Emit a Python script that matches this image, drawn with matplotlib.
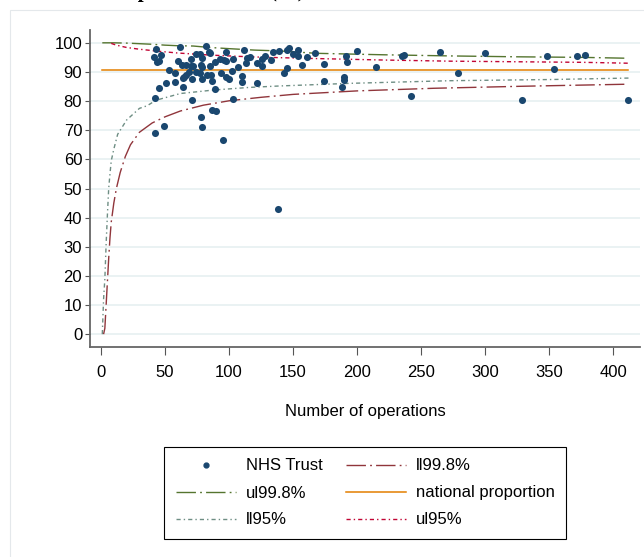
import matplotlib
matplotlib.use('Agg')
import matplotlib.pyplot as plt
from matplotlib.lines import Line2D
from matplotlib.patches import Rectangle

plt.rcParams['font.family'] = ['Liberation Sans', 'DejaVu Sans']

# NHS Trusts: number of operations and proportion (%)
trust_n = [41, 43, 44, 45, 47, 42, 42, 45, 49, 51, 53, 58, 58, 60, 62, 63, 66, 64, 65, 64,
           70, 70, 71, 72, 71, 74, 77, 74, 77, 79, 78, 79, 79, 78, 79, 82, 84, 85, 85, 83,
           86, 87, 89, 89, 87, 90, 93, 96, 98, 94, 98, 100, 95, 98, 102, 103, 107, 103, 110, 110,
           112, 114, 116, 113, 122, 126, 126, 128, 122, 133, 134, 139, 145, 147, 154, 150, 154, 145, 143, 138,
           157, 161, 167, 174, 174, 188, 190, 190, 191, 192, 200, 215, 235, 237, 242, 265, 279, 300, 329, 348,
           354, 372, 378, 412, 69, 66]
trust_pct = [95.3, 97.9, 93.3, 93.8, 95.9, 81.1, 69.2, 84.5, 71.6, 86.3, 90.6, 86.4, 89.7, 93.6, 98.6, 92.4, 92.4, 87.8, 88.2, 84.7,
             94.4, 92.1, 80.4, 92.1, 87.5, 96.1, 96.1, 90.1, 89.6, 94.9, 92.4, 91.8, 87.5, 74.4, 71.2, 99.0, 96.8, 96.5, 92.1, 88.9,
             88.9, 87.0, 84.3, 93.4, 77.1, 76.7, 94.3, 94.1, 93.8, 89.5, 88.4, 87.6, 66.8, 97.0, 90.4, 94.3, 91.8, 80.6, 88.5, 86.6,
             97.4, 94.9, 95.2, 93.0, 93.0, 92.1, 94.6, 95.5, 86.2, 94.1, 97.0, 97.3, 97.6, 98.2, 97.6, 96.1, 95.6, 91.3, 89.6, 43.0,
             92.5, 95.2, 96.5, 92.7, 87.0, 84.7, 88.4, 87.3, 95.4, 93.3, 97.1, 91.7, 95.5, 95.9, 81.6, 96.7, 89.6, 96.5, 80.4, 95.5,
             91.1, 95.5, 95.8, 80.5, 90.0, 89.0]

national_n = [1, 412]
national_pct = [90.7, 90.7]

# control limits
ll998_n = [2, 3, 4, 5, 6, 7, 8, 10, 12, 15, 19, 23, 30, 40, 50, 62, 80, 100, 125, 150, 200, 260, 330, 412]
ll998 = [0, 2, 10, 18, 26, 33, 38.5, 45, 50, 55.5, 61, 65, 69.3, 72.5, 74.6, 76.6, 78.6, 80.1, 81.3, 82.3, 83.5, 84.4, 85.1, 85.8]

ul998_n = [1, 10, 20, 30, 40, 50, 60, 72, 85, 100, 120, 140, 168, 220, 273, 325, 377, 412]
ul998 = [100, 100, 99.9, 99.7, 99.5, 99.2, 99.0, 98.9, 98.4, 98.0, 97.5, 97.2, 96.4, 95.9, 95.5, 95.2, 95.0, 94.7]

ll95_n = [1, 2, 3, 4, 5, 6, 7, 8, 10, 13, 20, 30, 36, 43, 62, 88, 116, 140, 195, 273, 351, 412]
ll95 = [0, 12, 19, 31, 41, 50, 55, 59.5, 63.5, 68.6, 73.5, 77.5, 78.4, 80.3, 82.6, 83.8, 84.7, 85.2, 86.1, 87.0, 87.4, 87.9]

ul95_n = [8, 12, 20, 30, 45, 60, 85, 100, 116, 140, 168, 220, 273, 325, 377, 412]
ul95 = [99.8, 99.2, 98.4, 97.8, 97.1, 96.5, 95.8, 95.5, 95.2, 94.9, 94.6, 94.1, 93.7, 93.5, 93.3, 93.0]

navy = '#1a476f'
maroon = '#90353b'
forest = '#55752f'
dkorange = '#e37e00'
teal = '#6e8e84'
cranberry = '#c10534'

longdash_dot = (0, (14, 3, 1.3, 3))
shortdash_dot = (0, (3, 2.2, 1, 2.2))

fig = plt.figure(figsize=(6.44, 5.57), dpi=100)
ax = fig.add_axes([90 / 644, 1 - 347 / 557, 550 / 644, 317 / 557])

ax.grid(axis='y', color='#eaf2f3', lw=1.4, zorder=0)
ax.set_axisbelow(True)

ax.plot(national_n, national_pct, color=dkorange, lw=1.1, zorder=2)
ax.plot(ll998_n, ll998, color=maroon, lw=1.0, ls=longdash_dot, zorder=3)
ax.plot(ul998_n, ul998, color=forest, lw=1.0, ls=longdash_dot, zorder=3)
ax.plot(ll95_n, ll95, color=teal, lw=1.0, ls=shortdash_dot, zorder=3)
ax.plot(ul95_n, ul95, color=cranberry, lw=1.0, ls=shortdash_dot, zorder=3)
ax.scatter(trust_n, trust_pct, s=26, color=navy, linewidths=0, zorder=5)

ax.set_xlim(-8.6, 421)
ax.set_ylim(-4.4, 104.4)
ax.set_xticks(range(0, 401, 50))
ax.set_yticks(range(0, 101, 10))
ax.tick_params(direction='out', width=0.8, color='#555555', labelsize=12)
ax.tick_params(axis='y', length=3.6, pad=2)
ax.tick_params(axis='x', length=6, pad=7)
for s in ['top', 'right']:
    ax.spines[s].set_visible(False)
for s in ['left', 'bottom']:
    ax.spines[s].set_color('#666666')
    ax.spines[s].set_linewidth(1.3)
ax.set_xlabel('Number of operations', fontsize=12, labelpad=17)

handles = [
    Line2D([], [], marker='o', ls='none', color=navy, markersize=3.5),
    Line2D([], [], color=forest, lw=1.0, ls=longdash_dot),
    Line2D([], [], color=teal, lw=1.0, ls=shortdash_dot),
    Line2D([], [], color=maroon, lw=1.0, ls=longdash_dot),
    Line2D([], [], color=dkorange, lw=1.1),
    Line2D([], [], color=cranberry, lw=1.0, ls=shortdash_dot),
]
labels = ['NHS Trust', 'ul99.8%', 'll95%', 'll99.8%', 'national proportion', 'ul95%']
leg = fig.legend(handles, labels, ncol=2, loc='center', bbox_to_anchor=(365 / 644, 1 - 493 / 557),
                 fontsize=12, frameon=True, fancybox=False, edgecolor='black', framealpha=1,
                 handlelength=3.6, handletextpad=0.6, columnspacing=1.4, labelspacing=0.72,
                 borderpad=0.7)
leg.get_frame().set_linewidth(0.8)

# faint outer frame of the graph region
fig.add_artist(Rectangle((10 / 644, -0.1), 1, 1.1 - 10 / 557, transform=fig.transFigure,
                         fill=False, ec='#e4e8eb', lw=0.8))

# title cut off at the top edge, only the lower parts show
fig.text(95 / 644, 1 + 2.5 / 557, 'Complication rates (%)', fontsize=15, fontweight='bold',
         family='Liberation Serif', va='baseline', ha='left')

fig.savefig('out.png', dpi=100)
